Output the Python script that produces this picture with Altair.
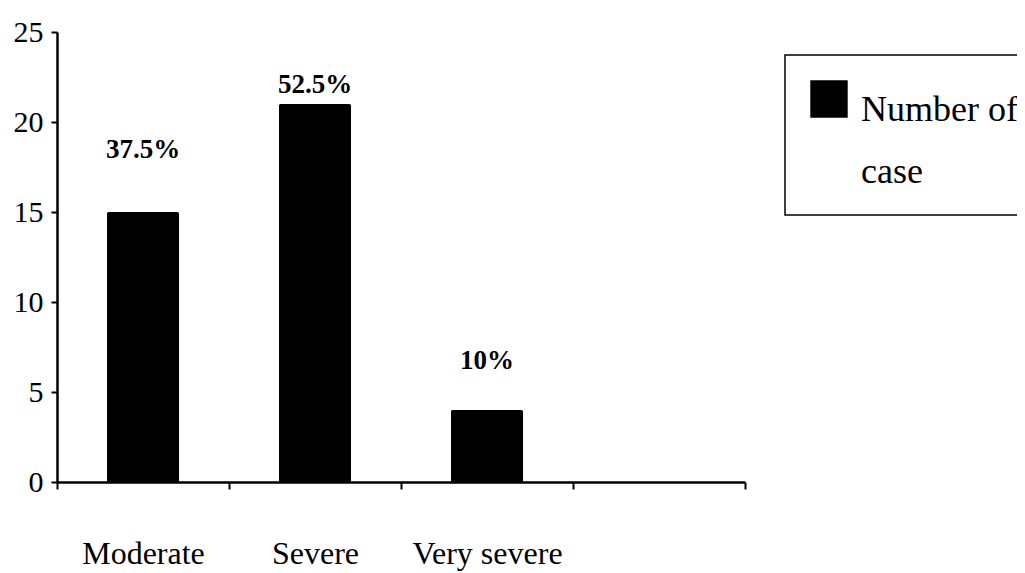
import altair as alt
import pandas as pd

# ---- data ----
categories = ["Moderate", "Severe", "Very severe"]
cases = [15, 21, 4]
pct_labels = ["37.5%", "52.5%", "10%"]
# vertical anchor (in data units) of each percentage annotation
label_y = [18.0, 21.6, 6.3]
x_domain = categories + [" "]          # the reference axis has an empty 4th slot
y_ticks = [0, 5, 10, 15, 20, 25]
series_name = "Number of case"

df = pd.DataFrame({
    "category": categories,
    "cases": cases,
    "pct": pct_labels,
    "label_y": label_y,
    "series": [series_name] * len(categories),
})

FONT = "Liberation Serif"

x_enc = alt.X(
    "category:N",
    sort=x_domain,
    scale=alt.Scale(domain=x_domain, paddingInner=0, paddingOuter=0),
    axis=alt.Axis(
        title=None, labelAngle=0, tickBand="extent",
        tickSize=7, tickWidth=2, tickColor="black",
        domainWidth=2.5, domainColor="black",
        labelFont=FONT, labelFontSize=32, labelColor="black",
        labelPadding=49, labelBaseline="top",
    ),
)

bars = alt.Chart(df).mark_bar(
    width=alt.RelativeBandSize(0.42), cornerRadiusTopLeft=2, cornerRadiusTopRight=2
).encode(
    x=x_enc,
    y=alt.Y(
        "cases:Q",
        scale=alt.Scale(domain=[0, 25], nice=False),
        axis=alt.Axis(
            title=None, values=y_ticks, grid=False,
            tickSize=6, tickWidth=2, tickColor="black",
            domainWidth=2.5, domainColor="black",
            labelFont=FONT, labelFontSize=30, labelColor="black",
            labelPadding=8,
        ),
    ),
    color=alt.Color(
        "series:N",
        scale=alt.Scale(domain=[series_name], range=["#000000"]),
        legend=alt.Legend(
            orient="none", legendX=728, legendY=23,
            title=["Number of", "case"], titleOrient="right",
            titleFont=FONT, titleFontSize=36, titleFontWeight="normal",
            titleColor="black", titleLineHeight=62, titleBaseline="line-top",
            titleAnchor="start", titlePadding=13,
            labelExpr="''", labelOffset=0,
            symbolType="square", symbolSize=1400, symbolStrokeWidth=0,
            padding=25, strokeColor="black",
        ),
    ),
)

labels = alt.Chart(df).mark_text(
    font=FONT, fontSize=27, fontWeight="bold", color="black", baseline="alphabetic"
).encode(
    x=alt.X("category:N", sort=x_domain),
    y=alt.Y("label_y:Q"),
    text="pct:N",
)

chart = (
    alt.layer(bars, labels)
    .properties(
        width=688, height=450,
        autosize=alt.AutoSizeParams(type="none"),
        padding={"left": 49, "top": 24, "right": 272, "bottom": 91},
        background="white",
    )
    .configure_view(stroke=None)
    .configure_legend(strokeWidth=1.5)
)

chart.save("out.html", embed_options={"renderer": "svg", "actions": False})
